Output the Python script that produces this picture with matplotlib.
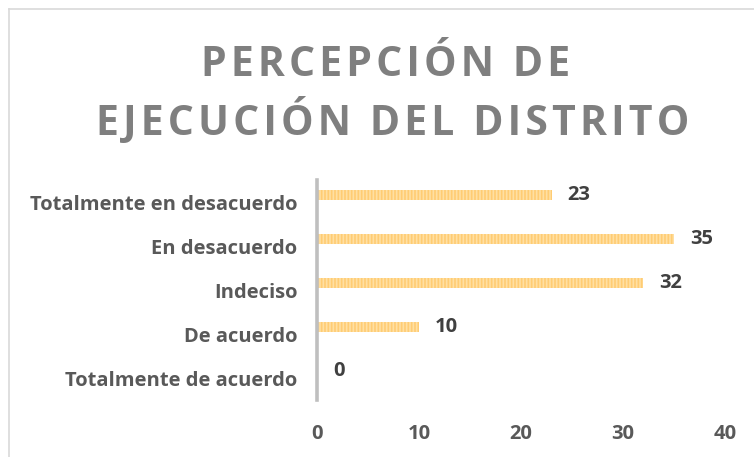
import matplotlib
matplotlib.use("Agg")
import matplotlib.pyplot as plt
import numpy as np
from matplotlib.lines import Line2D

categories = ["Totalmente en desacuerdo", "En desacuerdo", "Indeciso", "De acuerdo", "Totalmente de acuerdo"]
values = [23, 35, 32, 10, 0]
xticks = [0, 10, 20, 30, 40]
title_lines = ["PERCEPCIÓN DE", "EJECUCIÓN DEL DISTRITO"]

plt.rcParams['font.family'] = ['Open Sans', 'DejaVu Sans']
plt.rcParams['hatch.linewidth'] = 1.2

W, H = 754, 457
fig = plt.figure(figsize=(W / 100, H / 100), dpi=100)
fig.patch.set_facecolor('white')

# chart border (top & left visible)
fig.add_artist(Line2D([9 / W, 9 / W], [0, 1 - 9 / H], transform=fig.transFigure, color='#d9d9d9', lw=1.2))
fig.add_artist(Line2D([9 / W, 1], [1 - 9 / H, 1 - 9 / H], transform=fig.transFigure, color='#d9d9d9', lw=1.2))

ax = fig.add_axes([317 / W, 1 - 400 / H, 408 / W, 220 / H])
pos = np.arange(len(categories))
ax.barh(pos - 0.16, values, height=0.23, color='#ffe0a3', edgecolor='#ffcc73',
        hatch='|||||', linewidth=0, zorder=2)
ax.set_ylim(len(categories) - 0.5, -0.5)
ax.set_xlim(0, 40)
ax.set_yticks(pos)
ax.set_yticklabels(categories, fontsize=14.5, fontweight='bold', color='#595959')
ax.set_xticks(xticks)
ax.set_xticklabels([str(t) for t in xticks], fontsize=14.5, fontweight='bold', color='#595959')
ax.tick_params(axis='y', length=0, pad=14)
ax.tick_params(axis='x', length=0, pad=17)
for s in ['top', 'right', 'bottom']:
    ax.spines[s].set_visible(False)
ax.spines['left'].set_color('#bfbfbf')
ax.spines['left'].set_linewidth(2.6)
ax.spines['left'].set_zorder(3)

for p, v in zip(pos, values):
    ax.annotate(str(v), xy=(v, p - 0.16), xytext=(11.5, 0), textcoords='offset points',
                ha='left', va='center', fontsize=14.5, fontweight='bold', color='#404040')

def spaced(s):
    return '\u200a'.join(list(s))

fig.text(386 / W, 1 - 76 / H, spaced(title_lines[0]), ha='center', va='baseline',
         fontsize=29.5, fontweight='bold', color='#7f7f7f')
fig.text(393 / W, 1 - 135 / H, spaced(title_lines[1]), ha='center', va='baseline',
         fontsize=29.5, fontweight='bold', color='#7f7f7f')

fig.savefig('out.png', dpi=100, facecolor='white')
